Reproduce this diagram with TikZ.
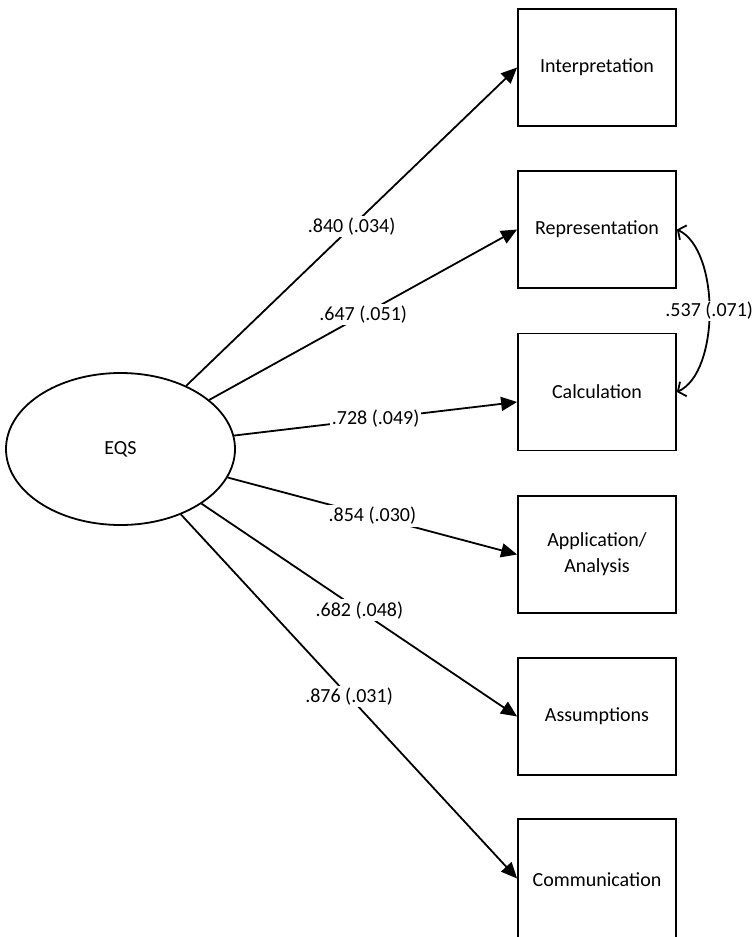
\documentclass[tikz,border=0pt]{standalone}
\usepackage{fontspec}
\setmainfont{Carlito}
\usetikzlibrary{arrows.meta,shapes.geometric}
\begin{document}
\begin{tikzpicture}[x=1pt,y=-1pt,
  every node/.style={font=\fontsize{20}{26}\selectfont},
  obsbox/.style={draw,line width=1.8pt,minimum width=158pt,minimum height=117pt,align=center,inner sep=0pt},
  latent/.style={draw,ellipse,line width=1.8pt,minimum width=229pt,minimum height=152pt,inner sep=0pt},
  path/.style={line width=1.8pt,-{Triangle[length=16pt,width=14pt]}},
  lbl/.style={fill=white,inner sep=2pt,pos=0.5},
  cov/.style={line width=1.8pt,{Straight Barb[length=6pt,width=16pt,line width=1.8pt]}-{Straight Barb[length=6pt,width=16pt,line width=1.8pt]}}]
\clip (0,0) rectangle (753,937);
\fill[white] (0,0) rectangle (753,937);
\node[latent] (eqs) at (120.5,449) {EQS};
\node[obsbox] (interp) at (597,67.5) {Interpretation};
\node[obsbox] (repr) at (597,229.5) {Representation};
\node[obsbox] (calc) at (597,392) {Calculation};
\node[obsbox] (appl) at (597,554.5) {Application/\\Analysis};
\node[obsbox] (assum) at (597,716.5) {Assumptions};
\node[obsbox,minimum height=122pt] (comm) at (597,880) {Communication};
\draw[path] (eqs) -- (interp.west) node[lbl] {.840 (.034)};
\draw[path] (eqs) -- (repr.west) node[lbl] {.647 (.051)};
\draw[path] (eqs) -- ([yshift=-10pt]calc.west) node[lbl] {.728 (.049)};
\draw[path] (eqs) -- (appl.west) node[lbl] {.854 (.030)};
\draw[path] (eqs) -- (assum.west) node[lbl] {.682 (.048)};
\draw[path] (eqs) -- ([yshift=1.5pt]comm.west) node[lbl] {.876 (.031)};
\draw[cov] (repr.east) .. controls (720,250) and (720,372) .. (calc.east) node[lbl,inner sep=1pt] {.537 (.071)};
\end{tikzpicture}
\end{document}
